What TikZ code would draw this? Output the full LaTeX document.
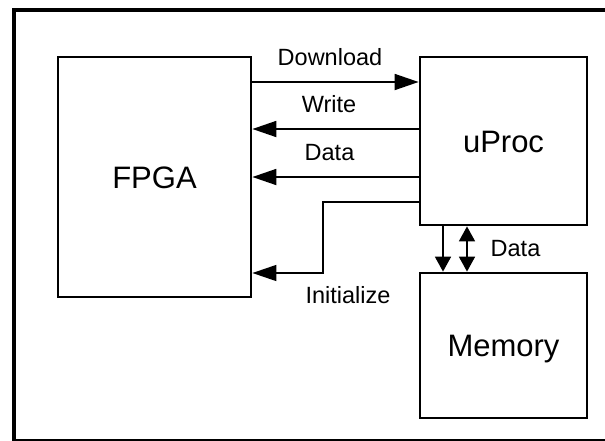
\documentclass[tikz,border=0pt]{standalone}
\usepackage{fontspec}
\setmainfont{Liberation Sans}
\usetikzlibrary{arrows.meta}
\tikzset{
  blk/.style={draw, line width=2.8pt, inner sep=0pt, text height=22pt, text depth=0pt,
              font=\fontsize{31}{36}\selectfont},
  lbl/.style={inner sep=0pt, anchor=base, font=\fontsize{23.5}{28}\selectfont},
  conn/.style={line width=1.8pt},
  tipH/.style={-{Triangle[length=24pt,width=16pt]}},
  tipV/.style={-{Triangle[length=15pt,width=16pt]}},
  tipVV/.style={{Triangle[length=15pt,width=16pt]}-{Triangle[length=15pt,width=16pt]}},
}
\begin{document}
\begin{tikzpicture}[x=1pt,y=-1pt]
\useasboundingbox (0,0) rectangle (605,440);
% outer frame
\draw[line width=4.5pt] (614,10) -- (14,10) -- (14,441) -- (614,441);
% blocks
\node[blk, minimum width=193pt, minimum height=240pt] (fpga) at (154.5,177) {FPGA};
\node[blk, minimum width=167pt, minimum height=168pt] (uproc) at (503.5,141) {uProc};
\node[blk, minimum width=167pt, minimum height=145pt] (mem) at (503.5,345.5) {Memory};
% horizontal connectors
\draw[conn,tipH] (fpga.east |- 0,82) -- (uproc.west |- 0,82);
\draw[conn,tipH] (uproc.west |- 0,129) -- (fpga.east |- 0,129);
\draw[conn,tipH] (uproc.west |- 0,177) -- (fpga.east |- 0,177);
\coordinate (b1) at (323,202);
\coordinate (b2) at (323,273);
\draw[line width=1.5pt,tipH] (uproc.west |- b1) -- (b1) -- (b2) -- (fpga.east |- b2);
% vertical connectors
\draw[conn,tipV] (uproc.south -| 443,0) -- (mem.north -| 443,0);
\draw[conn,tipVV] (uproc.south -| 467,0) -- (mem.north -| 467,0);
% labels
\node[lbl] (ldown) at (330,65) {Download};
\node[lbl] (lwrite) at (329,112) {Write};
\node[lbl] (ldata) at (329.5,160) {Data};
\node[lbl] (linit) at (348,303) {Initialize};
\node[lbl, anchor=base west] (ldata2) at (490.5,256) {Data};
\end{tikzpicture}
\end{document}
